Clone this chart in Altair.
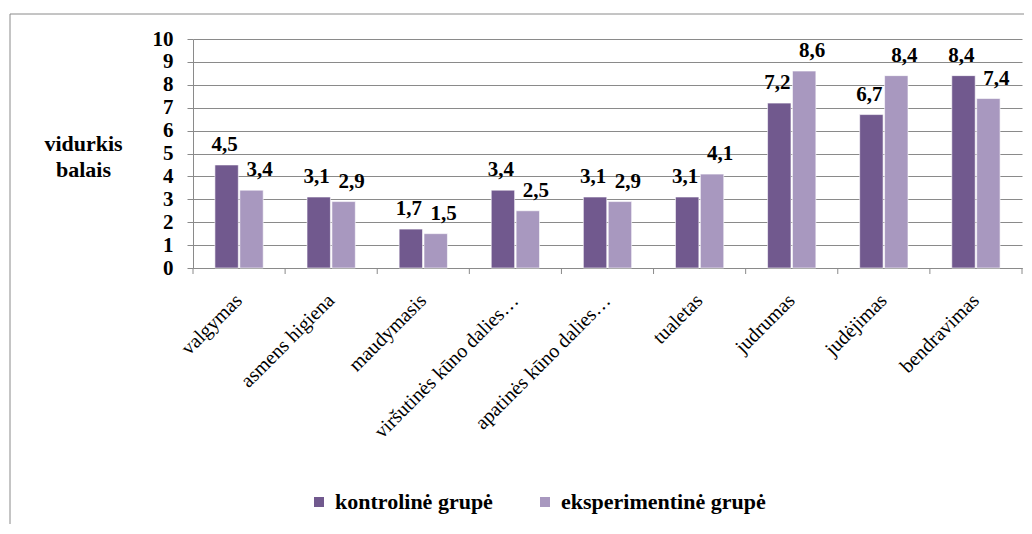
import altair as alt
import pandas as pd

categories = ["valgymas", "asmens higiena", "maudymasis", "viršutinės kūno dalies…",
              "apatinės kūno dalies…", "tualetas", "judrumas", "judėjimas", "bendravimas"]
kontroline = [4.5, 3.1, 1.7, 3.4, 3.1, 3.1, 7.2, 6.7, 8.4]
eksperimentine = [3.4, 2.9, 1.5, 2.5, 2.9, 4.1, 8.6, 8.4, 7.4]
series = ["kontrolinė grupė", "eksperimentinė grupė"]
colors = ["#71598E", "#A898BF"]
y_ticks = list(range(0, 11))
y_title = ["vidurkis", "balais"]

rows = []
for c, k, e in zip(categories, kontroline, eksperimentine):
    rows.append({"cat": c, "grupe": series[0], "value": k})
    rows.append({"cat": c, "grupe": series[1], "value": e})
df = pd.DataFrame(rows)

FONT = "Liberation Serif"
GRAY = "#8a8a8a"
W, H = 829, 229

xscale = alt.Scale(domain=categories, paddingInner=0, paddingOuter=0)
x_axis = alt.Axis(title=None, labelAngle=315, labelAlign="right", labelBaseline="middle",
                  ticks=False, domainColor=GRAY, labelFont=FONT, labelFontSize=20,
                  labelColor="black", labelPadding=29, labelLimit=400, grid=False)
x_enc = alt.X("cat:N", scale=xscale, sort=categories, axis=x_axis)
xoff = alt.XOffset("grupe:N", sort=series,
                   scale=alt.Scale(domain=series, paddingInner=0.06, paddingOuter=0.88))
y_axis = alt.Axis(values=y_ticks, grid=True, gridColor=GRAY, domainColor=GRAY, tickColor=GRAY,
                  tickSize=6, labelFont=FONT, labelFontSize=21, labelFontWeight="bold",
                  labelColor="black", labelPadding=14, title=y_title, titleAngle=0,
                  titleX=-110, titleY=111, titleAlign="center", titleBaseline="alphabetic",
                  titleFont=FONT, titleFontSize=22, titleFontWeight="bold",
                  titleColor="black", titleLineHeight=26)
y_enc = alt.Y("value:Q", scale=alt.Scale(domain=[0, 10]), axis=y_axis)

bars = alt.Chart(df).mark_bar(stroke="white", strokeWidth=0.6).encode(
    x=x_enc, xOffset=xoff, y=y_enc,
    color=alt.Color("grupe:N", sort=series,
                    scale=alt.Scale(domain=series, range=colors),
                    legend=alt.Legend(orient="none", legendX=115, legendY=452,
                                      direction="horizontal", title=None,
                                      symbolType="square", symbolSize=100,
                                      symbolStrokeWidth=0, labelFont=FONT,
                                      labelFontSize=22, labelFontWeight="bold",
                                      labelColor="black", labelOffset=5, labelLimit=0,
                                      columnPadding=41, padding=0)),
)


def value_labels(group, shift):
    return alt.Chart(df).transform_filter(
        alt.datum.grupe == group
    ).transform_calculate(
        label="replace(format(datum.value, '.1f'), '.', ',')"
    ).mark_text(font=FONT, fontSize=21, fontWeight="bold", baseline="alphabetic",
                dy=-14, dx=shift, color="black").encode(
        x=x_enc, xOffset=xoff, y=y_enc, text="label:N"
    )


labels_k = value_labels(series[0], -2)
labels_e = value_labels(series[1], 8)

cat_df = pd.DataFrame({"cat": categories})
ticks = alt.Chart(cat_df).mark_rule(color=GRAY).encode(
    x=alt.X("cat:N", scale=xscale, sort=categories, axis=x_axis, bandPosition=0),
    y=alt.value(H), y2=alt.value(H + 6)
)
last_tick = alt.Chart(pd.DataFrame({"cat": categories[-1:]})).mark_rule(color=GRAY).encode(
    x=alt.X("cat:N", scale=xscale, sort=categories, axis=x_axis, bandPosition=1),
    y=alt.value(H), y2=alt.value(H + 6)
)

frame = alt.Chart(alt.Data(values=[{"a": 1}])).mark_rect(
    fillOpacity=0, stroke=GRAY, strokeWidth=1
).encode(x=alt.value(-183), x2=alt.value(W + 200), y=alt.value(-25), y2=alt.value(H + 400))

chart = alt.layer(frame, bars, labels_k, labels_e, ticks, last_tick).properties(
    width=W, height=H,
    padding={"left": 185, "top": 31, "right": 2, "bottom": 256},
    autosize=alt.AutoSizeParams(type="none"),
).configure_view(stroke=None)

chart.save("out.html", embed_options={"renderer": "svg", "actions": False})
